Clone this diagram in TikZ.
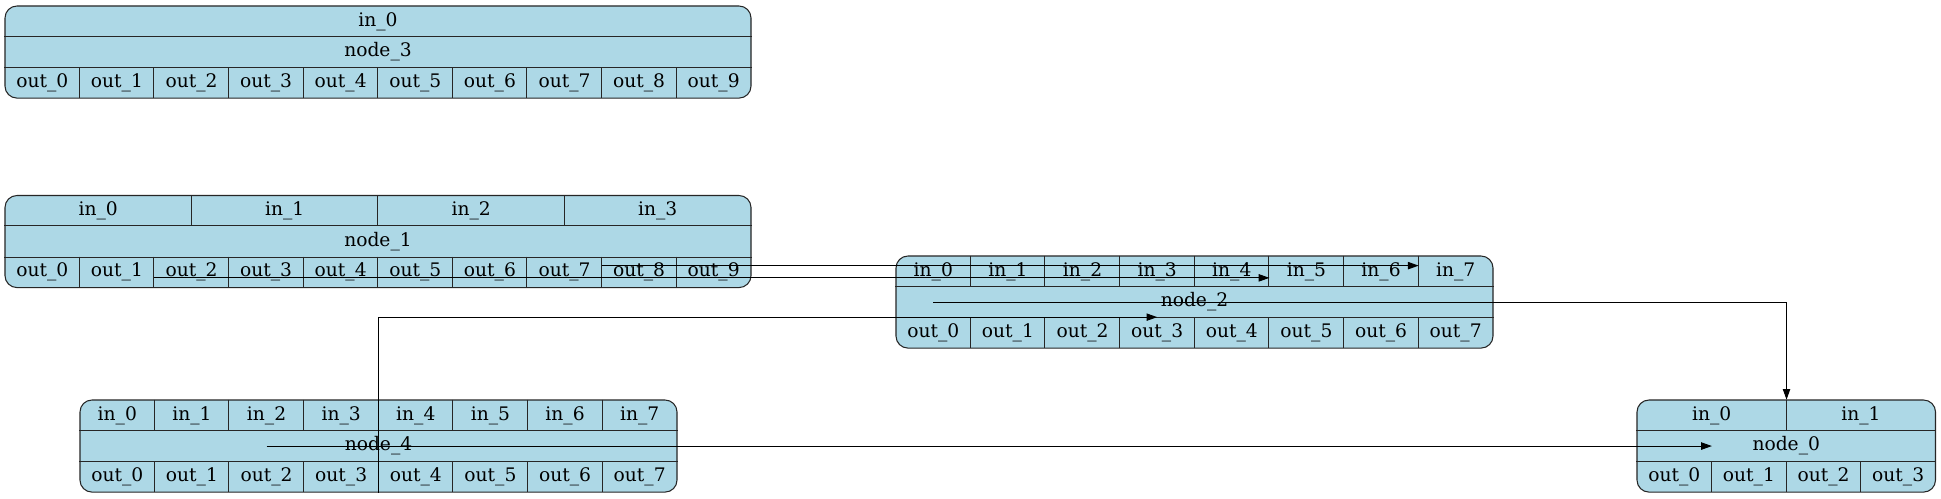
\documentclass[tikz,border=0pt]{standalone}
\usepackage{fontspec}
\setmainfont{DejaVu Serif}
\usetikzlibrary{arrows.meta,calc}
\definecolor{recfill}{HTML}{ADD8E6}
\tikzset{
  recbox/.style={draw=black!85, line width=0.8pt, fill=recfill, rounded corners=9pt, inner sep=0pt},
  cell/.style={inner sep=0pt, minimum height=23.025pt, font=\fontsize{14}{16}\selectfont},
  divider/.style={draw=black!85, line width=0.75pt},
  edge/.style={draw=black, line width=0.75pt, -{Triangle[length=8pt,width=5.5pt]}}
}
% #1 name, #2 x left, #3 y top, #4 in cells, #5 out cells, #6 label, #7 width (px)
\newcommand\recnode[7]{%
  \pgfmathsetmacro\recw{#7}%
  \pgfmathsetmacro\inw{#7/#4}%
  \pgfmathsetmacro\outw{#7/#5}%
  \pgfmathtruncatemacro\lastin{#4-1}%
  \pgfmathtruncatemacro\lastout{#5-1}%
  \node[recbox, minimum width=\recw*0.75pt, minimum height=69.075pt] (#1) at ({#2+#7/2},{#3+46.05}) {};
  \node[cell, minimum width=\recw*0.75pt] (#1-lab) at ({#2+#7/2},{#3+46.05}) {#6};
  \foreach \i in {0,...,\lastin} {
    \node[cell, minimum width=\inw*0.75pt] (#1-i\i) at ({#2+(\i+0.5)*\inw},{#3+15.35}) {in\_\i};
  }
  \foreach \i in {0,...,\lastout} {
    \node[cell, minimum width=\outw*0.75pt] (#1-o\i) at ({#2+(\i+0.5)*\outw},{#3+76.75}) {out\_\i};
  }
  \draw[divider] (#1.west |- #1-lab.north) -- (#1.east |- #1-lab.north);
  \draw[divider] (#1.west |- #1-lab.south) -- (#1.east |- #1-lab.south);
  \ifnum#4>1
    \foreach \i in {1,...,\lastin} {\draw[divider] (#1-i\i.north west) -- (#1-i\i.south west);}
  \fi
  \ifnum#5>1
    \foreach \i in {1,...,\lastout} {\draw[divider] (#1-o\i.north west) -- (#1-o\i.south west);}
  \fi
}
\begin{document}
\begin{tikzpicture}[x=0.75pt, y=-0.75pt]
  \fill[white] (0,0) rectangle (1941,499);
  \useasboundingbox (0,0) rectangle (1941,499);

  \recnode{n3}{5}{6}{1}{10}{node\_3}{746}
  \recnode{n1}{5}{195.5}{4}{10}{node\_1}{746}
  \recnode{n2}{896}{256}{8}{8}{node\_2}{597}
  \recnode{n4}{80}{400}{8}{8}{node\_4}{597}
  \recnode{n0}{1637}{400}{2}{4}{node\_0}{298.5}

  % node_1 -> node_2 (upper)
  \draw[edge] ($(n1-o8.north west)+(0,9)$) coordinate (a0) -- (a0 -| n2-i6.east);
  % node_1 -> node_2 (lower)
  \draw[edge] ($(n1-o2.south west)+(0,-10)$) coordinate (b0) -- (b0 -| n2-i4.east);
  % node_2 -> node_0
  \draw[edge] (n2-i0.center |- n2-lab.center) -| (n0-i0.north east);
  % node_4 -> node_2
  \draw[edge] (n4.south -| n4-i4.west) |- (n2-o3.north);
  % node_4 -> node_0
  \draw[edge] (n4-i2.center |- n4-lab.center) coordinate (e0) -- (e0 -| n0-o0.east);
\end{tikzpicture}
\end{document}
